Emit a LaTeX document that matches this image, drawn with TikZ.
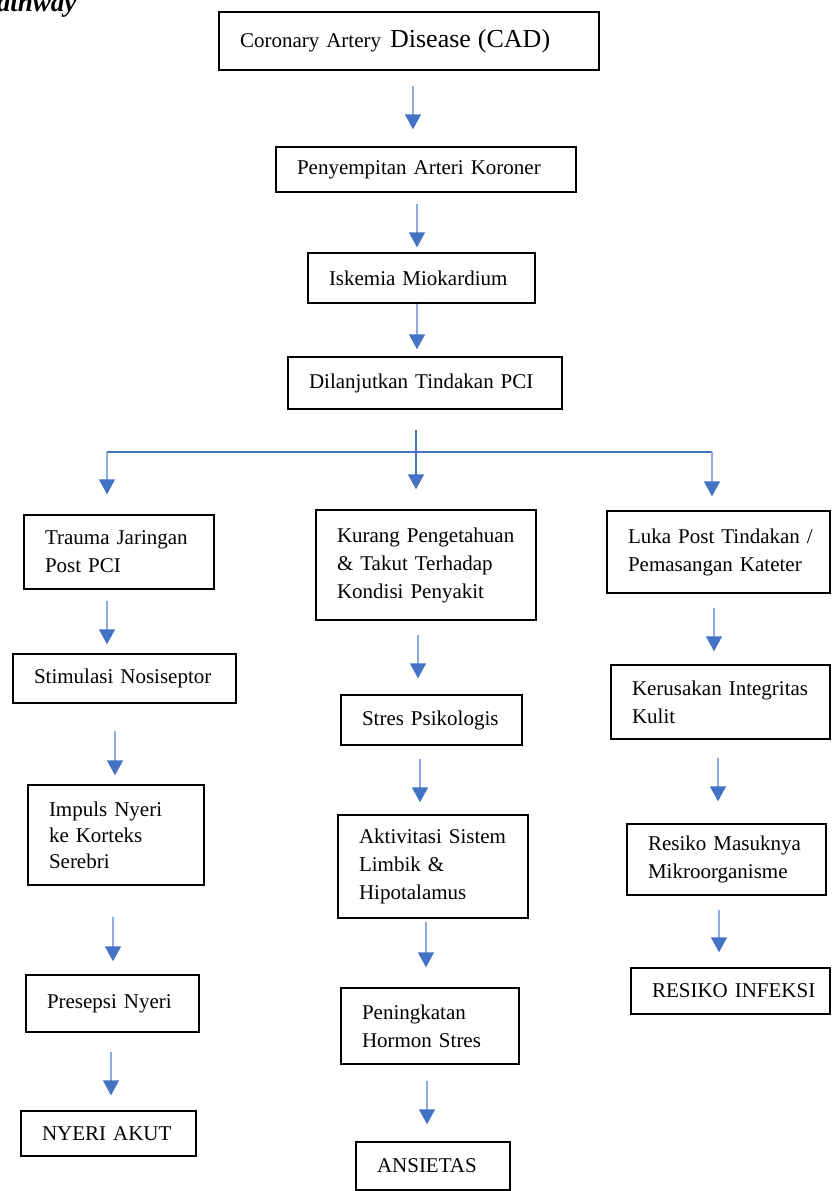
\documentclass[tikz,border=0pt]{standalone}
\usepackage{fontspec}
\setmainfont{Liberation Serif}
\usetikzlibrary{arrows.meta}

\definecolor{birutua}{HTML}{4472C4}
\definecolor{birumuda}{HTML}{8FAADC}

\tikzset{
  kotak/.style={draw, line width=1.4pt, align=left, inner xsep=21pt, inner ysep=0pt},
  panah/.style={draw=birumuda, line width=1.5pt, -{Triangle[width=16pt,length=15pt,color=birutua]}},
  cabang/.style={draw=birutua, line width=1.8pt}
}

\begin{document}
\begin{tikzpicture}[x=1pt, y=-1pt, every node/.style={font=\fontsize{21pt}{28pt}\selectfont}]
\useasboundingbox (0,0) rectangle (831,1191);

\node[font=\fontsize{27pt}{30pt}\selectfont\bfseries\itshape, anchor=base east] (judul) at (80,11) {Pathway}; % judul

\node[kotak, text width=338, minimum height=58] (cad) at (409,41) {Coronary Artery\hspace{9pt}{\fontsize{26pt}{28pt}\selectfont Disease (CAD)}}; % cad
\node[kotak, text width=258, minimum height=45] (pen) at (426,169.5) {Penyempitan Arteri Koroner}; % pen
\node[kotak, text width=185, minimum height=50] (isk) at (421.5,278) {Iskemia Miokardium}; % isk
\node[kotak, text width=232, minimum height=52] (pci) at (425,383) {Dilanjutkan Tindakan PCI}; % pci

\node[kotak, text width=148, minimum height=74] (trauma) at (119,552) {Trauma Jaringan\\Post PCI}; % trauma
\node[kotak, text width=181, minimum height=49] (stim) at (124.5,678.5) {Stimulasi Nosiseptor}; % stim
\node[kotak, text width=134, minimum height=100, font=\fontsize{21pt}{26pt}\selectfont] (impuls) at (116,835) {Impuls Nyeri\\ke Korteks\\Serebri}; % impuls
\node[kotak, text width=131, minimum height=57] (pres) at (112.5,1003.5) {Presepsi Nyeri}; % pres
\node[kotak, text width=133, minimum height=45] (nyeri) at (108.5,1133.5) {NYERI AKUT}; % nyeri

\node[kotak, text width=178, minimum height=110] (kurang) at (426,565) {Kurang Pengetahuan\\\& Takut Terhadap\\Kondisi Penyakit}; % kurang
\node[kotak, text width=139, minimum height=50] (stres) at (431.5,720) {Stres Psikologis}; % stres
\node[kotak, text width=148, minimum height=103] (aktiv) at (433,866.5) {Aktivitasi Sistem\\Limbik \&\\Hipotalamus}; % aktiv
\node[kotak, text width=136, minimum height=76] (hormon) at (430,1026) {Peningkatan\\Hormon Stres}; % hormon
\node[kotak, text width=112, minimum height=48] (ansietas) at (433,1166) {ANSIETAS}; % ansietas

\node[kotak, text width=181, minimum height=82] (luka) at (718.5,552) {\mbox{Luka Post Tindakan /}\\Pemasangan Kateter}; % luka
\node[kotak, text width=177, minimum height=74] (kulit) at (720.5,702) {\mbox{Kerusakan Integritas}\\Kulit}; % kulit
\node[kotak, text width=157, minimum height=71] (mikro) at (726.5,859.5) {Resiko Masuknya\\Mikroorganisme}; % mikro
\node[kotak, text width=157, minimum height=46] (infeksi) at (730.5,991) {\mbox{RESIKO INFEKSI}}; % infeksi

\draw[panah, shorten <=15pt, shorten >=17pt] (413,0 |- cad.south) -- (413,0 |- pen.north); % cad-pen
\draw[panah, shorten <=11pt, shorten >=5pt] (417,0 |- pen.south) -- (417,0 |- isk.north); % pen-isk
\draw[panah, shorten >=7pt] (417,0 |- isk.south) -- (417,0 |- pci.north); % isk-pci

\coordinate (kiri) at (107,452); % kiri
\coordinate (kanan) at (712,452); % kanan
\draw[cabang] (kiri) -- (kanan); % cabang
\draw[panah, draw=birutua, line width=1.8pt, shorten <=20pt, shorten >=20pt] (416,0 |- pci.south) -- (416,0 |- kurang.north); % pci-kurang
\draw[panah, shorten >=20pt] (kiri) -- (kiri |- trauma.north); % pci-trauma
\draw[panah, shorten >=14pt] (kanan) -- (kanan |- luka.north); % pci-luka

\draw[panah, shorten <=11pt, shorten >=9pt] (107,0 |- trauma.south) -- (107,0 |- stim.north); % trauma-stim
\draw[panah, shorten <=27pt, shorten >=9pt] (115,0 |- stim.south) -- (115,0 |- impuls.north); % stim-impuls
\draw[panah, shorten <=31pt, shorten >=13pt] (113,0 |- impuls.south) -- (113,0 |- pres.north); % impuls-pres
\draw[panah, shorten <=19pt, shorten >=15pt] (111,0 |- pres.south) -- (111,0 |- nyeri.north); % pres-nyeri

\draw[panah, shorten <=14pt, shorten >=16pt] (418,0 |- kurang.south) -- (418,0 |- stres.north); % kurang-stres
\draw[panah, shorten <=13pt, shorten >=12pt] (420,0 |- stres.south) -- (420,0 |- aktiv.north); % stres-aktiv
\draw[panah, shorten <=3pt, shorten >=20pt] (426,0 |- aktiv.south) -- (426,0 |- hormon.north); % aktiv-hormon
\draw[panah, shorten <=16pt, shorten >=17pt] (427,0 |- hormon.south) -- (427,0 |- ansietas.north); % hormon-ansietas

\draw[panah, shorten <=14pt, shorten >=13pt] (714,0 |- luka.south) -- (714,0 |- kulit.north); % luka-kulit
\draw[panah, shorten <=18pt, shorten >=22pt] (718,0 |- kulit.south) -- (718,0 |- mikro.north); % kulit-mikro
\draw[panah, shorten <=14pt, shorten >=15pt] (719,0 |- mikro.south) -- (719,0 |- infeksi.north); % mikro-infeksi

\end{tikzpicture}
\end{document}
